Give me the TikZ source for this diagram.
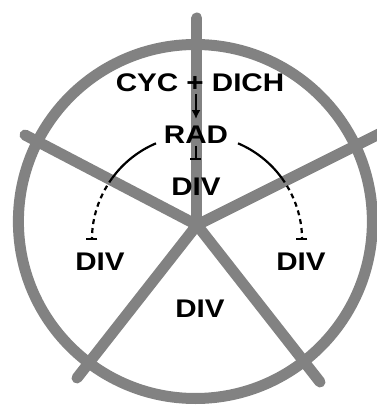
\documentclass[tikz,border=0pt]{standalone}
\usepackage{fontspec}
\setmainfont{Liberation Sans}
\newfontfamily\lblfont{Liberation Sans}[FakeStretch=1.16]
\usepackage{tikz}
\usetikzlibrary{arrows.meta}
\definecolor{wheel}{RGB}{130,130,130}

\begin{document}
\begin{tikzpicture}[x=1pt, y=1pt,
  spoke/.style={draw=wheel, line width=11pt, line cap=round},
  lbl/.style={font={\lblfont\fontsize{25.5pt}{26pt}\selectfont\bfseries}, inner sep=2pt},
  con/.style={line width=2.2pt},
  act/.style={con, -{Latex[length=9pt,width=9pt]}},
  inh/.style={con, -{Bar[width=11pt,line width=2.2pt]}}]
\useasboundingbox (-197,-180) rectangle (179,225);
% wheel
\draw[spoke] (-1.6,3.5) circle[radius=177];
\coordinate (hub) at (0,0);
\foreach \e in {(0,207),(-172,90),(186,93),(-120,-153),(123,-157)}
  \draw[spoke] (hub) -- \e;
% labels
\node[lbl] (cycdich) at (3,142) {CYC + DICH};
\node[lbl] (rad) at (-1,90) {RAD};
\node[lbl] (divc) at (-1,38) {DIV};
\node[lbl] (divl) at (-97,-37) {DIV};
\node[lbl] (divr) at (104,-37) {DIV};
\node[lbl] (divb) at (3,-84) {DIV};
% links
\draw[act, shorten >=5pt] (cycdich.south -| rad.north) -- (rad.north);
\draw[inh, shorten >=16pt] (rad.south) -- (divc.north);
\coordinate (radl) at ([shift={(0,-15)}]113:105);
\coordinate (radr) at ([shift={(0,-15)}]67:105);
\draw[con] (radl) arc[start angle=113, end angle=144, radius=105] coordinate (midl);
\draw[inh, dash pattern=on 5pt off 4pt] (midl) arc[start angle=144, end angle=180, radius=105];
\draw[con] (radr) arc[start angle=67, end angle=36, radius=105] coordinate (midr);
\draw[inh, dash pattern=on 5pt off 4pt] (midr) arc[start angle=36, end angle=0, radius=105];
\end{tikzpicture}
\end{document}
